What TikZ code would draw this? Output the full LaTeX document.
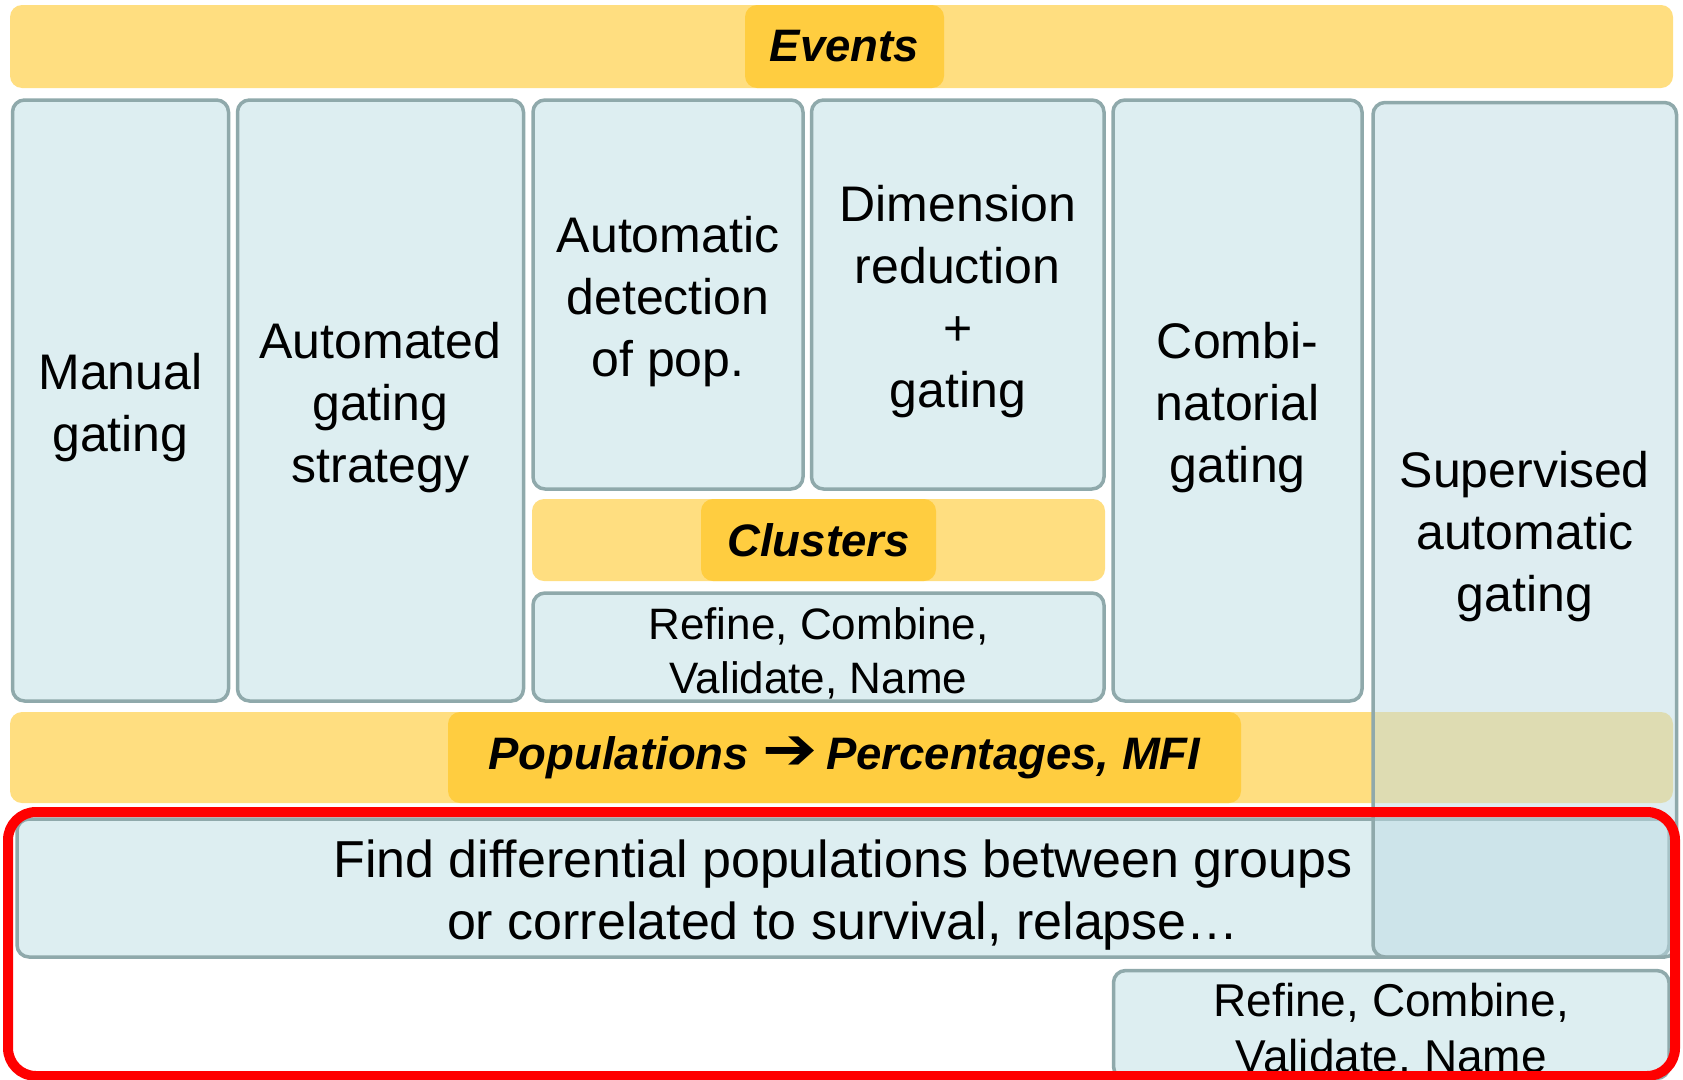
\documentclass[tikz,border=0pt]{standalone}
\usepackage{graphicx}
\usepackage{fontspec}
\setmainfont{Liberation Sans}
\newfontfamily\symfont{DejaVu Sans}

\definecolor{paleyellow}{RGB}{255,222,128}
\definecolor{gold}{RGB}{255,205,64}
\definecolor{boxfill}{RGB}{221,238,241}
\definecolor{boxline}{RGB}{143,169,171}
\definecolor{supfill}{RGB}{190,220,228}
\definecolor{alarm}{RGB}{255,0,0}

% tall invisible strut that sets the first line a little lower in its box
\newcommand{\liftline}{\rule{0pt}{1em}}

\begin{document}
\begin{tikzpicture}[x=1pt,y=-1pt,
  cell/.style={draw=boxline, line width=3.5pt, fill=boxfill, rounded corners=12pt,
    inner sep=0pt, outer sep=0pt, align=center, font=\fontsize{50}{62}\selectfont},
  small/.style={font=\fontsize{44}{54}\selectfont},
  band/.style={fill=paleyellow, rounded corners=12pt, inner sep=0pt, outer sep=0pt},
  tag/.style={fill=gold, rounded corners=12pt, inner sep=0pt, outer sep=0pt,
    font=\fontsize{45.5}{54}\selectfont\bfseries\itshape},
  frame/.style={draw=alarm, line width=10pt, rounded corners=28pt, inner sep=0pt, outer sep=0pt}]

\clip (0,0) rectangle (1683,1079);

% top band
\node[band, minimum width=1663pt, minimum height=83pt] (evbar) at (841.5,46.5) {};
\node[tag, minimum width=199pt, minimum height=83pt] (events) at (844.5,46.5) {Events};

% method columns
\node[cell, minimum width=216pt, minimum height=601pt] (manual) at (120.5,400.5) {\liftline Manual\\gating};
\node[cell, minimum width=286pt, minimum height=601pt] (autostrat) at (380.5,400.5) {\liftline Automated\\gating\\strategy};
\node[cell, minimum width=270pt, minimum height=389pt] (autodet) at (668,294.5) {\liftline Automatic\\detection\\of pop.};
\node[cell, minimum width=292.5pt, minimum height=389pt] (dimred) at (957.75,294.5) {\liftline Dimension\\reduction\\+\\gating};
\node[band, minimum width=573pt, minimum height=82pt] (clbar) at (818.5,540) {};
\node[tag, minimum width=235pt, minimum height=82pt] (clusters) at (818.5,540) {Clusters};
\node[cell, small, minimum width=571pt, minimum height=108pt] (refineA) at (818.5,647) {\liftline Refine, Combine,\\Validate, Name};
\node[cell, minimum width=249pt, minimum height=601pt] (combi) at (1237.5,400.5) {\liftline Combi-\\natorial\\gating};

% populations band
\node[band, minimum width=1663pt, minimum height=91pt] (popbar) at (841.5,757.5) {};
\node[tag, minimum width=793pt, minimum height=91pt] (populations) at (844.5,757.5)
  {Populations\hspace{14pt}\scalebox{1.45}[1.3]{\symfont\mdseries\upshape ➔}\hspace{8pt}Percentages, MFI};

% downstream analysis
\node[cell, font=\fontsize{52}{62}\selectfont, minimum width=1652pt, minimum height=138pt] (find) at (843,888)
  {\liftline Find differential populations between groups\\or correlated to survival, relapse…};

% supervised column, laid over the bands
\node[cell, fill=supfill, fill opacity=0.5, text opacity=1, minimum width=303.5pt, minimum height=854.5pt]
  (supervised) at (1524.75,529.75) {\liftline Supervised\\automatic\\gating};

\node[cell, font=\fontsize{46}{56}\selectfont, minimum width=555.5pt, minimum height=104pt] (refineB) at (1391.25,1024.5) {\liftline Refine, Combine,\\Validate, Name};

% highlight frame
\node[frame, minimum width=1667pt, minimum height=264pt] (focus) at (841.5,944) {};
\end{tikzpicture}
\end{document}
